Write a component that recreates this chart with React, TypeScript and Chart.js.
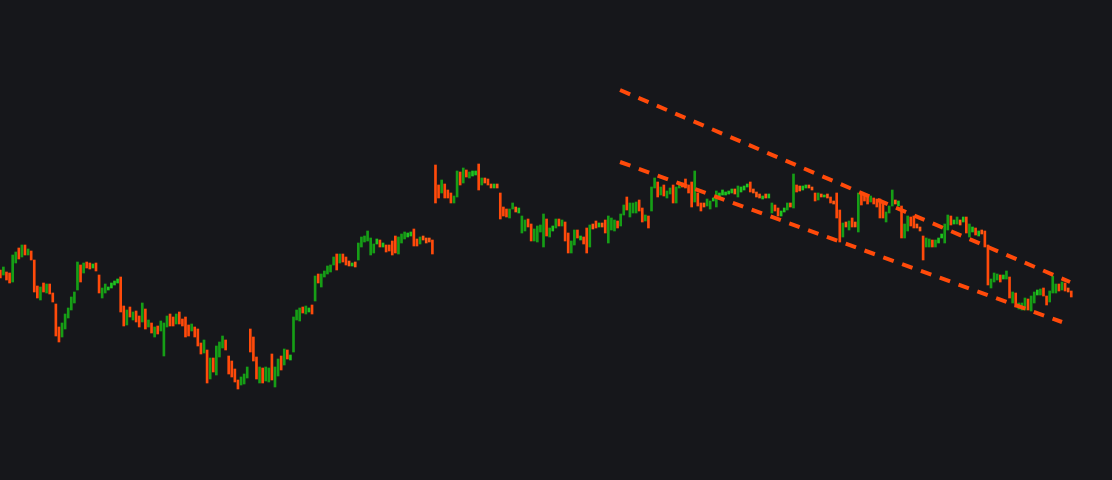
import React, { useEffect, useRef } from "react";
import Chart from "chart.js/auto";

// Bar highs / lows (price units), one per session, and direction (u = up / green, d = down / orange)
const highs: number[] = [
  210,213,208,207,225,228,232,235,235,231,
  229,220,194,193,197,196,196,187,176,153,
  157,166,172,183,188,218,215,217,218,217,
  216,217,205,192,196,193,197,199,201,203,
  174,170,173,168,169,164,177,171,160,157,
  153,154,159,157,164,166,163,166,168,161,
  163,155,156,153,151,137,140,130,122,122,
  134,138,144,140,124,119,111,100,103,106,
  113,151,143,123,113,112,113,112,126,113,
  121,124,131,130,125,163,170,172,173,174,
  172,175,204,206,206,209,214,215,223,226,
  226,226,223,219,217,218,237,243,244,249,
  242,236,241,240,237,235,235,239,244,243,
  246,248,247,248,251,241,243,244,242,242,
  240,315,295,300,296,290,287,284,309,308,
  312,310,308,309,309,316,302,302,301,296,
  296,296,287,273,271,271,277,273,272,264,
  260,261,256,251,254,255,266,261,252,254,
  261,261,260,258,247,239,250,250,244,243,
  252,255,256,259,257,257,260,264,262,260,
  259,266,275,283,277,277,278,280,272,265,
  264,293,302,298,293,295,289,292,295,293,
  298,297,301,295,298,309,287,277,277,281,
  279,282,289,287,290,288,289,291,291,294,
  293,294,296,298,291,288,286,284,286,286,
  277,275,272,269,272,277,277,306,295,294,
  294,295,295,293,287,287,286,285,286,283,
  279,287,270,257,258,259,262,258,287,287,
  285,283,284,282,281,281,277,268,274,290,
  280,279,274,256,264,263,264,256,253,244,
  242,241,240,240,242,246,256,265,264,260,
  263,260,263,263,256,253,252,249,250,249,
  235,201,207,206,205,205,209,203,188,187,
  177,177,182,181,184,188,190,191,192,184,
  189,204,196,196,198,197,192,189,
];

const lows: number[] = [
  202,205,200,197,198,217,221,223,225,225,
  220,188,182,180,188,187,186,178,144,138,
  143,151,162,170,177,190,198,207,212,211,
  212,209,187,182,187,190,192,195,197,168,
  154,155,163,160,158,153,158,151,153,147,
  143,146,149,124,153,154,154,156,156,154,
  143,144,149,143,134,126,127,97,101,108,
  105,123,132,130,106,103,98,91,95,96,
  102,128,119,101,97,97,99,98,100,93,
  104,110,115,121,120,128,160,159,167,166,
  168,166,179,197,193,203,206,208,215,210,
  217,218,215,214,214,213,220,233,238,239,
  225,227,236,233,233,228,229,225,227,226,
  237,241,243,244,234,234,236,240,237,238,
  226,277,282,287,282,282,277,277,283,295,
  297,303,302,304,305,290,295,297,295,292,
  292,292,261,264,263,262,271,268,267,247,
  249,253,239,239,238,248,233,244,243,249,
  252,254,254,239,227,227,235,242,240,236,
  227,233,251,252,253,253,247,237,250,249,
  252,254,265,270,263,267,267,269,258,259,
  252,269,292,283,285,284,282,286,277,277,
  292,293,292,287,273,278,274,269,273,274,
  271,279,273,283,285,285,286,287,286,283,
  288,290,293,288,287,283,282,281,282,282,
  267,269,264,264,268,270,273,272,288,289,
  290,292,292,290,279,280,283,283,282,277,
  276,262,238,243,253,250,253,253,248,275,
  279,276,278,276,273,262,262,258,267,274,
  276,274,242,242,249,254,252,252,249,220,
  233,233,233,233,237,242,237,250,255,256,
  256,255,258,247,243,248,245,244,246,233,
  195,192,198,200,198,201,201,182,177,173,
  171,170,170,170,169,177,185,185,184,175,
  178,187,187,189,190,189,188,183,
];

const dirs: string[] = (
  "d u d d u u d u d u " +
  "d d d u d u d d d d " +
  "u u u u u u d u d d " +
  "u d d u u u u u u d " +
  "d u d u d d u d u d " +
  "u d u u u d d u d d " +
  "d d u d d d u d u d " +
  "u u u d d d d d u u " +
  "u d d d u d u u d u " +
  "u d u d u u u u d u " +
  "u d u d u u u u u d " +
  "u d d d u d u u u u " +
  "u u u d u d d d d u " +
  "u u u u d d u d d d " +
  "d d d u d d d u u d " +
  "u d u u u d u d d d " +
  "u d d d d u u d u u " +
  "u d d u u u u d u u " +
  "u d u d d u u d u d " +
  "d u d d u d d u u u " +
  "d u u d u u u d d u " +
  "d u u d u d u u d u " +
  "u d d d d u d d d u " +
  "u u u u u u u u d u " +
  "u u u d d d d u d u " +
  "u d d u u u d u d d " +
  "u u d d d u d u d d " +
  "d d d u d u d d u d " +
  "d d u d d d d u u u " +
  "d u d u u d d d d d " +
  "u u d u u u u u d u " +
  "u d u d u u d u d d " +
  "d u u u d u u d u d " +
  "u u u d u u u u d d " +
  "u u u d u d d d"
).split(" ");

// Trend channel (session index, price)
const upperChannel = [
  { x: 200.8, y: 390 },
  { x: 346.6, y: 198 },
];
const lowerChannel = [
  { x: 200.8, y: 318 },
  { x: 344.0, y: 158 },
];

const UP = "#169e16";
const UP_SMALL = "#1fc41f";
const DOWN = "#ff4a0a";
const DOWN_SMALL = "#ff5a14";
const LINE = "#ff4a0a";
const BG = "#16171b";

export default function App() {
  const ref = useRef<HTMLCanvasElement | null>(null);

  useEffect(() => {
    document.body.style.margin = "0";
    document.body.style.background = BG;
    if (!ref.current) return;
    const barData = highs.map((h, i) => ({ x: i, y: [lows[i], h] }));
    const colors = highs.map((h, i) => {
      const small = h - lows[i] <= 5;
      if (dirs[i] === "u") return small ? UP_SMALL : UP;
      return small ? DOWN_SMALL : DOWN;
    });
    const chart = new Chart(ref.current, {
      type: "bar",
      data: {
        datasets: [
          {
            type: "line",
            data: upperChannel,
            borderColor: LINE,
            borderWidth: 4,
            borderDash: [11, 9],
            pointRadius: 0,
            tension: 0,
            order: 0,
          } as any,
          {
            type: "line",
            data: lowerChannel,
            borderColor: LINE,
            borderWidth: 4,
            borderDash: [11, 9],
            pointRadius: 0,
            tension: 0,
            order: 0,
          } as any,
          {
            type: "bar",
            data: barData as any,
            backgroundColor: colors,
            borderWidth: 0,
            barThickness: 2,
            order: 1,
          },
        ],
      },
      options: {
        animation: false,
        responsive: false,
        maintainAspectRatio: false,
        layout: { padding: 0 },
        plugins: {
          legend: { display: false },
          tooltip: { enabled: false },
        },
        scales: {
          x: { type: "linear", display: false, offset: false, min: -0.1, max: 360.2 },
          y: { type: "linear", display: false, min: 0, max: 480 },
        },
      },
    });
    return () => chart.destroy();
  }, []);

  return (
    <div style={{ position: "fixed", left: 0, top: 0, width: 1112, height: 480, background: BG }}>
      <canvas ref={ref} width={1112} height={480} style={{ display: "block" }} />
    </div>
  );
}
